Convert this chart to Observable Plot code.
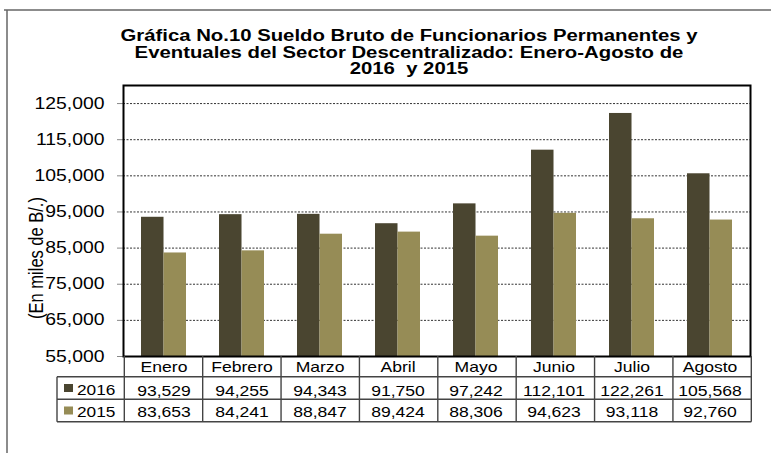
<!DOCTYPE html>
<html><head><meta charset="utf-8">
<script src="https://cdn.jsdelivr.net/npm/d3@7"></script>
<script src="https://cdn.jsdelivr.net/npm/@observablehq/plot@0.6"></script>
<style>body{margin:0;background:#fff} svg{display:block}</style>
</head><body><div id="chart"></div>
<script>
const months = ["Enero","Febrero","Marzo","Abril","Mayo","Junio","Julio","Agosto"];
const values2016 = [93529,94255,94343,91750,97242,112101,122261,105568];
const values2015 = [83653,84241,88847,89424,88306,94623,93118,92760];
const seriesNames = ["2016","2015"];
const yTicks = [55000,65000,75000,85000,95000,105000,115000,125000];
const yMax = 130000;
const titleLines = ["Gráfica No.10 Sueldo Bruto de Funcionarios Permanentes y","Eventuales del Sector Descentralizado: Enero-Agosto de","2016  y 2015"];
const yLabel = "(En miles de B/.)";
const colors = ["#4a4530","#968c56"];

const W=771,H=453,mL=123,mR=21,mT=85,mB=97;
const pIn=0.426,pOut=0.213;
const step=(W-mL-mR)/(months.length-pIn+2*pOut);
const bw=step*(1-pIn);
const rows16 = months.map((m,i)=>({month:m,value:values2016[i]}));
const rows15 = months.map((m,i)=>({month:m,value:values2015[i]}));
const fmt = d3.format(",");

const plot = Plot.plot({
  width:W,height:H,marginLeft:mL,marginRight:mR,marginTop:mT,marginBottom:mB,
  style:{fontFamily:"'Liberation Sans', Arial, sans-serif",fontSize:"15px",color:"#000",background:"#fff",overflow:"visible"},
  x:{type:"band",domain:months,paddingInner:pIn,paddingOuter:pOut,axis:null},
  y:{domain:[yTicks[0],yMax],axis:null},
  marks:[
    Plot.ruleY(yTicks.slice(1),{stroke:"#333",strokeDasharray:"2,1.5",strokeWidth:1}),
    Plot.barY(rows16,{x:"month",y1:yTicks[0],y2:"value",fill:colors[0],insetLeft:0,insetRight:bw/2}),
    Plot.barY(rows15,{x:"month",y1:yTicks[0],y2:"value",fill:colors[1],insetLeft:bw/2,insetRight:0}),
    Plot.axisY({ticks:yTicks,tickFormat:fmt,tickSize:6,tickPadding:13,stroke:"#888",fill:"#000",fontSize:16,label:null}),
    Plot.frame({stroke:"#000",strokeWidth:2}),
    Plot.text(months,{x:d=>d,frameAnchor:"bottom",lineAnchor:"middle",dy:10.7,fontSize:15}),
    Plot.text(rows16,{x:"month",text:d=>fmt(d.value),frameAnchor:"bottom",lineAnchor:"middle",dy:34.2,fontSize:15}),
    Plot.text(rows15,{x:"month",text:d=>fmt(d.value),frameAnchor:"bottom",lineAnchor:"middle",dy:55.9,fontSize:15})
  ]
});
document.getElementById("chart").appendChild(plot);
const svg = d3.select(plot);
const xs = plot.scale("x");
const edge = i => xs.apply(months[0]) - pIn*step/2 + i*step;

function stretch(sel,f){sel.each(function(){const L=this.getComputedTextLength();this.setAttribute("textLength",L*f);this.setAttribute("lengthAdjust","spacingAndGlyphs");});}
stretch(svg.selectAll('g[aria-label="y-axis tick label"] text'),1.21);
stretch(svg.selectAll('g[aria-label="text"] text'),1.17);

// outer border
const g = svg.append("g");
g.append("line").attr("x1",4).attr("x2",771).attr("y1",10).attr("y2",10).attr("stroke","#666").attr("stroke-width",1.5);
g.append("line").attr("x1",7).attr("x2",7).attr("y1",10).attr("y2",453).attr("stroke","#666").attr("stroke-width",1.5);

// title
const t = g.append("g").attr("font-family","'Liberation Sans', Arial, sans-serif").attr("font-weight","bold").attr("font-size",16).attr("text-anchor","middle");
const tb=[41,57.5,74];
titleLines.forEach((s,i)=>t.append("text").attr("x",409).attr("y",tb[i]).style("white-space","pre").text(s));
stretch(t.selectAll("text"),1.27);

// y label
g.append("text").attr("transform","translate(43,258) scale(1.25,1) rotate(-90)").attr("text-anchor","middle").attr("font-size",16.5).attr("font-family","'Liberation Sans', Arial, sans-serif").text(yLabel);

// table lines
const tl = g.append("g").attr("stroke","#444").attr("stroke-width",1.4);
const yB = H-mB, r1=376.7, r2=399.3, r3=421.7, legL=57;
for(let i=0;i<=months.length;i++) tl.append("line").attr("x1",edge(i)).attr("x2",edge(i)).attr("y1",yB).attr("y2",r3);
[r1,r2,r3].forEach(y=>tl.append("line").attr("x1",legL).attr("x2",edge(months.length)).attr("y1",y).attr("y2",y));
tl.append("line").attr("x1",legL).attr("x2",legL).attr("y1",r1).attr("y2",r3);

// legend
const lg = g.append("g").attr("font-family","'Liberation Sans', Arial, sans-serif").attr("font-size",15).attr("text-anchor","start");
const sy=[384,406.5], by=[395,416.7];
seriesNames.forEach((s,i)=>{
  lg.append("rect").attr("x",64).attr("y",sy[i]).attr("width",9).attr("height",8).attr("fill",colors[i]);
  lg.append("text").attr("x",77).attr("y",by[i]).attr("text-anchor","start").text(s);
});
stretch(lg.selectAll("text"),1.15);
</script></body></html>
